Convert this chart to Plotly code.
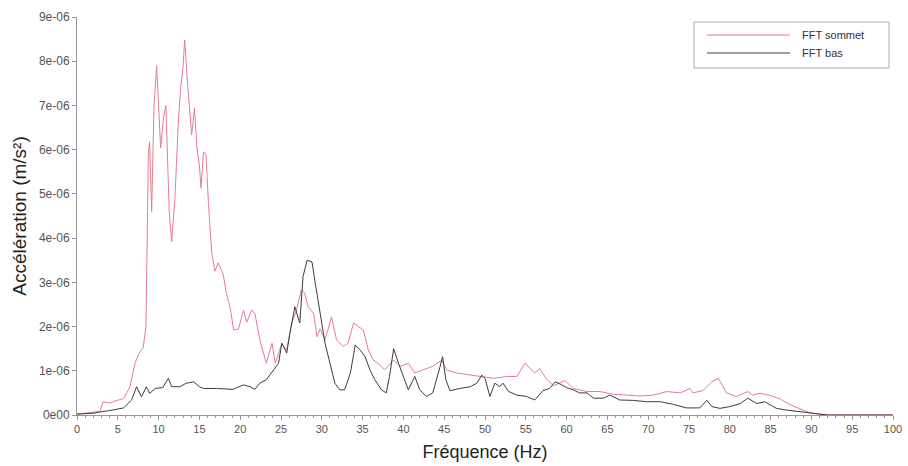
import plotly.graph_objects as go

# FFT amplitude spectra (acceleration, m/s²) at the top and bottom sensors
freq_sommet = [0.0, 1.0, 2.0, 2.8, 3.2, 4.0, 4.9, 5.7, 6.5, 7.1, 7.7, 8.1, 8.45, 8.6, 8.75,
               8.9, 9.15, 9.44, 9.76, 9.95, 10.25, 10.6, 10.9, 11.07, 11.3, 11.6, 12.0, 12.4,
               12.7, 13.0, 13.2, 13.5, 13.85, 14.05, 14.4, 14.7, 15.0, 15.2, 15.5, 15.8, 16.1,
               16.5, 16.9, 17.3, 17.9, 18.3, 18.75, 19.2, 19.8, 20.4, 20.8, 21.4, 21.8, 22.4,
               23.2, 23.9, 24.3, 25.1, 25.7, 26.3, 26.9, 27.5, 27.9, 28.3, 29.0, 29.4, 29.8,
               30.4, 31.2, 31.8, 32.6, 33.2, 33.9, 34.5, 35.1, 35.7, 36.3, 36.9, 37.7, 38.8,
               39.6, 40.6, 41.4, 42.4, 43.6, 44.7, 45.3, 46.5, 48.2, 49.8, 51.0, 52.7, 53.9,
               54.9, 55.5, 56.1, 56.7, 57.6, 58.4, 59.8, 60.8, 62.5, 64.1, 65.7, 67.4, 69.0,
               70.6, 72.3, 73.9, 75.1, 75.5, 76.7, 77.8, 78.6, 79.6, 80.8, 82.2, 82.8, 83.7,
               85.0, 86.2, 87.1, 88.6, 89.8, 91.0, 92.0, 100.0]
acc_sommet = [0.02, 0.04, 0.06, 0.08, 0.30, 0.27, 0.33, 0.37, 0.64, 1.17, 1.43, 1.50, 2.0, 3.7,
              5.95, 6.18, 4.6, 7.01, 7.9, 7.17, 6.04, 6.72, 7.0, 5.95, 4.6, 3.92, 4.9, 6.56,
              7.39, 7.9, 8.48, 7.62, 6.86, 6.33, 6.94, 6.04, 5.65, 5.13, 5.95, 5.9, 4.82, 3.69,
              3.25, 3.44, 3.2, 2.76, 2.45, 1.92, 1.95, 2.37, 2.1, 2.37, 2.3, 1.7, 1.17, 1.62,
              1.17, 1.62, 1.47, 2.08, 2.37, 2.83, 2.76, 2.45, 2.3, 1.77, 1.95, 1.7, 2.22, 1.7,
              1.55, 1.62, 2.08, 2.0, 1.92, 1.47, 1.24, 1.17, 1.02, 1.24, 1.1, 1.17, 0.95, 1.02,
              1.1, 1.24, 1.02, 0.95, 0.9, 0.87, 0.83, 0.87, 0.87, 1.17, 1.05, 0.95, 1.05, 0.8,
              0.66, 0.78, 0.6, 0.53, 0.53, 0.47, 0.45, 0.43, 0.45, 0.53, 0.5, 0.6, 0.5, 0.55,
              0.75, 0.83, 0.5, 0.42, 0.53, 0.45, 0.49, 0.44, 0.36, 0.26, 0.14, 0.05, 0.02, 0.0,
              0.0]

freq_bas = [0.0, 2.0, 3.2, 4.0, 5.7, 6.7, 7.3, 7.9, 8.5, 8.9, 9.6, 10.5, 11.2, 11.6, 12.6,
            13.4, 14.3, 15.0, 15.5, 17.1, 19.1, 20.4, 21.2, 21.8, 22.4, 23.2, 24.1, 24.7,
            25.1, 25.7, 26.1, 26.7, 27.3, 27.7, 28.2, 28.8, 29.2, 29.6, 30.0, 30.4, 31.0,
            31.6, 32.2, 32.8, 33.5, 34.1, 34.7, 35.3, 35.9, 36.5, 37.3, 37.9, 38.3, 38.8,
            39.4, 40.0, 40.6, 41.4, 42.0, 42.8, 43.6, 44.5, 44.8, 45.2, 45.7, 46.9, 48.2,
            49.0, 49.6, 50.0, 50.6, 51.2, 51.8, 52.2, 52.9, 53.9, 55.1, 56.1, 57.1, 57.9,
            58.6, 59.2, 60.0, 60.8, 61.6, 62.5, 63.3, 64.5, 65.3, 66.5, 68.2, 69.8, 71.5,
            73.1, 74.7, 76.3, 77.2, 77.8, 78.8, 80.0, 81.3, 82.2, 83.3, 84.3, 85.7, 87.0,
            88.6, 90.2, 91.4, 92.0, 100.0]
acc_bas = [0.02, 0.04, 0.08, 0.10, 0.16, 0.34, 0.64, 0.41, 0.64, 0.49, 0.6, 0.62, 0.83, 0.64,
           0.64, 0.72, 0.75, 0.64, 0.6, 0.6, 0.58, 0.68, 0.64, 0.58, 0.72, 0.8, 1.02, 1.17,
           1.62, 1.4, 1.85, 2.45, 2.08, 3.13, 3.5, 3.46, 2.98, 2.53, 2.15, 1.62, 1.17, 0.72,
           0.57, 0.57, 0.95, 1.58, 1.47, 1.32, 1.02, 0.8, 0.57, 0.5, 0.87, 1.5, 1.17, 0.87,
           0.57, 0.87, 0.57, 0.42, 0.5, 1.1, 1.32, 0.8, 0.55, 0.6, 0.64, 0.72, 0.9, 0.83,
           0.42, 0.72, 0.64, 0.72, 0.53, 0.45, 0.42, 0.34, 0.55, 0.6, 0.75, 0.7, 0.62, 0.57,
           0.5, 0.5, 0.38, 0.38, 0.45, 0.34, 0.33, 0.3, 0.3, 0.24, 0.16, 0.16, 0.33, 0.19,
           0.15, 0.19, 0.26, 0.38, 0.26, 0.3, 0.15, 0.11, 0.07, 0.04, 0.01, 0.0, 0.0]

SCALE = 1e-6
series_names = ["FFT sommet", "FFT bas"]
x_ticks = list(range(0, 101, 5))
y_tick_vals = [i * SCALE for i in range(10)]
y_tick_text = ["0e00"] + [f"{i}e-06" for i in range(1, 10)]

PINK = "rgb(232,124,146)"
DARK = "rgb(60,60,60)"
AXIS = "rgb(150,150,150)"

fig = go.Figure()
fig.add_trace(go.Scatter(x=freq_sommet, y=[v * SCALE for v in acc_sommet],
                         mode="lines", name=series_names[0],
                         line=dict(color=PINK, width=1)))
fig.add_trace(go.Scatter(x=freq_bas, y=[v * SCALE for v in acc_bas],
                         mode="lines", name=series_names[1],
                         line=dict(color=DARK, width=1)))

fig.update_layout(
    width=908, height=466,
    margin=dict(l=77, r=15, t=17, b=51, autoexpand=False),
    paper_bgcolor="white", plot_bgcolor="white",
    showlegend=False,
    font=dict(family="Liberation Sans, Arial, sans-serif", color="#444"),
)

fig.update_xaxes(
    range=[0, 100], tickvals=x_ticks, ticktext=[str(t) for t in x_ticks],
    showgrid=False, zeroline=False,
    showline=True, linecolor=AXIS, linewidth=1,
    ticks="outside", ticklen=4, tickcolor=AXIS,
    minor=dict(dtick=1, ticks="outside", ticklen=2, tickcolor=AXIS),
    tickfont=dict(size=11, color="#555"),
    title=dict(text="Fréquence (Hz)", font=dict(size=18, color="#222"), standoff=11),
)
fig.update_yaxes(
    range=[0, 9 * SCALE], tickvals=y_tick_vals, ticktext=y_tick_text,
    showgrid=False, zeroline=False,
    showline=True, linecolor=AXIS, linewidth=1,
    ticks="outside", ticklen=4, tickcolor=AXIS,
    tickfont=dict(size=12, color="#555"),
    title=dict(text="Accélération (m/s²)", font=dict(size=19, color="#222"), standoff=7),
)

# Boxed legend in the upper right corner
def px_x(p):
    return (p - 77) / 816

def px_y(p):
    return (415 - p) / 398

fig.add_shape(type="rect", xref="paper", yref="paper",
              x0=px_x(694), x1=px_x(889), y0=px_y(68), y1=px_y(22),
              line=dict(color="rgb(170,170,170)", width=1), fillcolor="white")
for name, color, ypx in [(series_names[0], PINK, 35), (series_names[1], DARK, 53)]:
    fig.add_shape(type="line", xref="paper", yref="paper",
                  x0=px_x(707), x1=px_x(790), y0=px_y(ypx), y1=px_y(ypx),
                  line=dict(color=color, width=1))
    fig.add_annotation(xref="paper", yref="paper", x=px_x(800), y=px_y(ypx),
                       text=name, showarrow=False, xanchor="left", yanchor="middle",
                       font=dict(size=11, color="#333"))

fig.write_html("out.html")
